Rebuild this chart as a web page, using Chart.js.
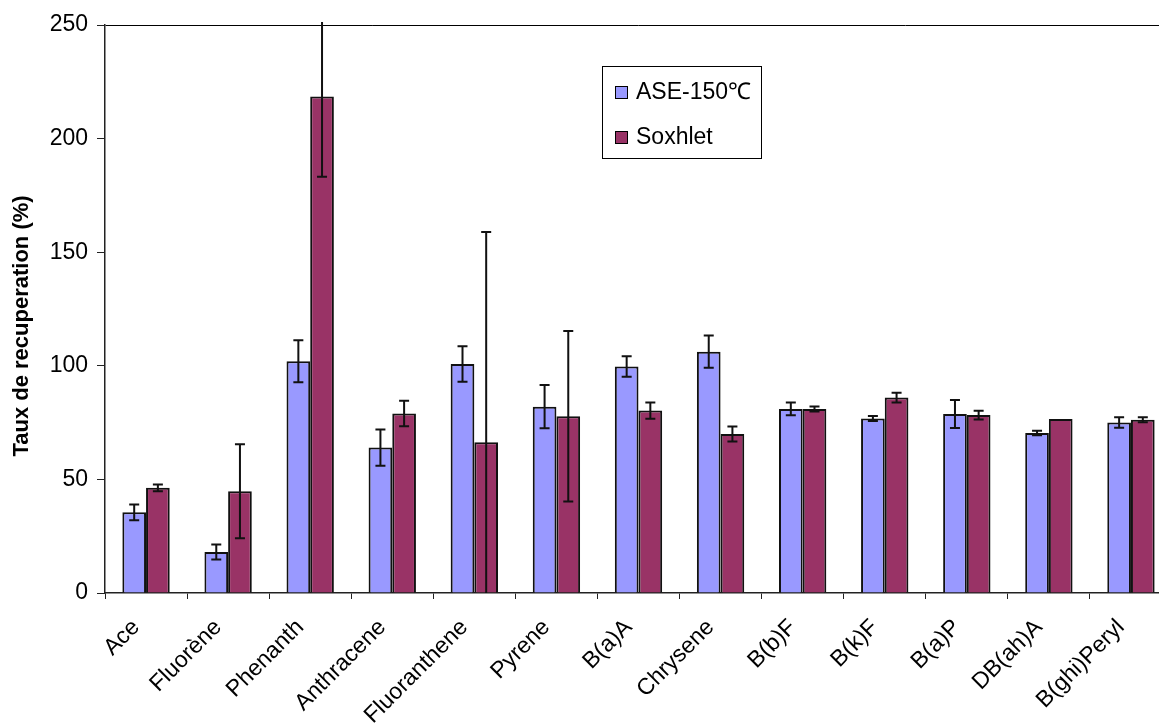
<!DOCTYPE html>
<html>
<head>
<meta charset="utf-8">
<script src="https://cdn.jsdelivr.net/npm/chart.js@4.4.1/dist/chart.umd.min.js"></script>
<style>
  html, body { margin: 0; padding: 0; background: #fff; overflow: hidden; }
  #wrap { width: 1180px; height: 745px; }
</style>
</head>
<body>
<div id="wrap"><canvas id="myChart" width="1180" height="745"></canvas></div>
<script>
// data
const categories = ['Ace', 'Fluorène', 'Phenanth', 'Anthracene', 'Fluoranthene', 'Pyrene',
  'B(a)A', 'Chrysene', 'B(b)F', 'B(k)F', 'B(a)P', 'DB(ah)A', 'B(ghi)Peryl'];
const aseValues = [35.5, 18, 102, 64, 100.8, 82, 99.7, 106.2, 81, 76.8, 78.8, 70.4, 75];
const aseErrors = [3.5, 3.3, 9.2, 8, 7.8, 9.5, 4.5, 7.1, 2.8, 1.1, 6.2, 1, 2.3];
const soxValues = [46.3, 44.8, 218.5, 79, 66.4, 77.8, 80.3, 70, 81, 86, 78.3, 76.6, 76.3];
const soxErrors = [1.5, 20.7, 35.3, 5.6, 92.5, 37.5, 3.6, 3.3, 1.1, 2.1, 1.9, 0, 1.1];
const yTicks = [0, 50, 100, 150, 200, 250];
const yTitle = 'Taux de recuperation (%)';

const FONT = '"Liberation Sans", Arial, sans-serif';

const errorBars = {
  id: 'errorBars',
  afterDatasetsDraw(chart) {
    const ctx = chart.ctx;
    const y = chart.scales.y;
    const area = chart.chartArea;
    ctx.save();
    ctx.strokeStyle = '#111';
    ctx.lineWidth = 2;
    chart.data.datasets.forEach(function (ds, i) {
      const meta = chart.getDatasetMeta(i);
      meta.data.forEach(function (bar, j) {
        const v = ds.data[j], e = ds.errors[j];
        if (!e) return;
        let top = y.getPixelForValue(v + e);
        let bot = y.getPixelForValue(v - e);
        const topCap = top >= area.top;
        const botCap = bot <= area.bottom;
        if (!topCap) top = area.top - 3;
        if (!botCap) bot = area.bottom;
        ctx.beginPath();
        ctx.moveTo(bar.x, top);
        ctx.lineTo(bar.x, bot);
        if (topCap) { ctx.moveTo(bar.x - 5, top); ctx.lineTo(bar.x + 5, top); }
        if (botCap) { ctx.moveTo(bar.x - 5, bot); ctx.lineTo(bar.x + 5, bot); }
        ctx.stroke();
      });
    });
    ctx.restore();
  }
};

// legend box and axis title, drawn where the original has them
const extras = {
  id: 'extras',
  afterDraw(chart) {
    const ctx = chart.ctx;
    const area = chart.chartArea;
    ctx.save();
    ctx.fillStyle = '#fff';
    ctx.fillRect(602, 66, 160, 93);
    ctx.strokeStyle = '#000';
    ctx.lineWidth = 1;
    ctx.strokeRect(602.5, 66.5, 159, 92);
    ctx.font = '23px ' + FONT;
    ctx.textBaseline = 'middle';
    chart.data.datasets.forEach(function (ds, i) {
      const cy = 92 + i * 45;
      ctx.fillStyle = ds.backgroundColor;
      ctx.fillRect(615, cy - 6, 13, 13);
      ctx.strokeStyle = '#000';
      ctx.strokeRect(615.5, cy - 5.5, 12, 12);
      ctx.fillStyle = '#000';
      ctx.fillText(ds.label, 636, cy + 1);
    });

    ctx.translate(22, (area.top + area.bottom) / 2 + 17);
    ctx.rotate(-Math.PI / 2);
    ctx.font = 'bold 22px ' + FONT;
    ctx.textAlign = 'center';
    ctx.fillStyle = '#000';
    ctx.fillText(yTitle, 0, 0);
    ctx.restore();
  }
};

const ctx = document.getElementById('myChart').getContext('2d');
const chart = new Chart(ctx, {
  type: 'bar',
  data: {
    labels: categories,
    datasets: [{
      label: 'ASE-150℃',
      data: aseValues,
      errors: aseErrors,
      backgroundColor: '#9999FF',
      borderColor: '#111',
      borderWidth: 2
    },
    {
      label: 'Soxhlet',
      data: soxValues,
      errors: soxErrors,
      backgroundColor: '#993366',
      borderColor: '#111',
      borderWidth: 2
    }]
  },
  options: {
    responsive: false,
    animation: false,
    layout: { padding: { top: 25, right: 8, left: 0, bottom: 0 } },
    datasets: { bar: { categoryPercentage: 0.577, barPercentage: 1 } },
    plugins: { legend: { display: false }, tooltip: { enabled: false } },
    scales: {
      x: {
        offset: true,
        grid: { offset: true, drawOnChartArea: false, tickLength: 6, tickColor: '#222' },
        border: { color: '#222', width: 1.5 },
        ticks: {
          color: '#000', font: { family: FONT, size: 23 },
          maxRotation: 45, minRotation: 45, padding: 15, labelOffset: -10, autoSkip: false
        },
        afterFit(scale) { scale.height = 152; }
      },
      y: {
        min: 0, max: 250,
        afterBuildTicks(scale) { scale.ticks = yTicks.map(function (v) { return { value: v }; }); },
        grid: {
          drawOnChartArea: true,
          color: function (c) { return c.tick && c.tick.value === 250 ? '#000' : 'rgba(0,0,0,0)'; },
          tickColor: '#222', tickLength: 8, lineWidth: 1
        },
        border: { color: '#222', width: 1.5 },
        ticks: { color: '#000', font: { family: FONT, size: 23 }, padding: 9 },
        afterFit(scale) { scale.width = 105; }
      }
    }
  },
  plugins: [errorBars, extras]
});
</script>
</body>
</html>
